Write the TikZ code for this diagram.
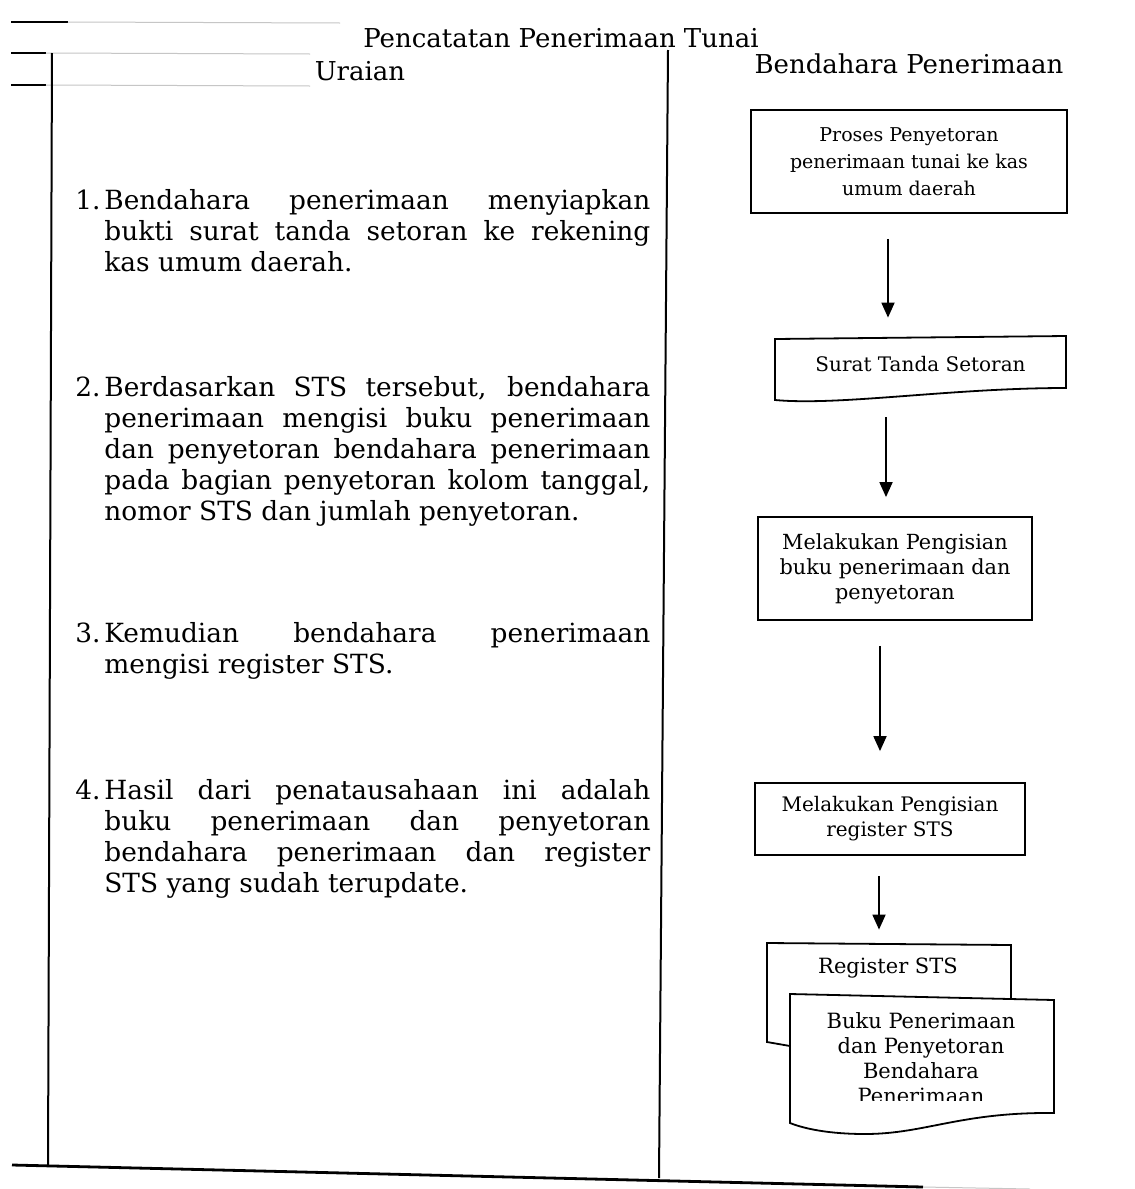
\documentclass[tikz,border=0pt]{standalone}
\usepackage{fontspec}
\setmainfont{DejaVu Serif}
\usetikzlibrary{arrows.meta}

\newcommand\hdrfont{\fontsize{13}{15}\selectfont}
\newcommand\parafont{\fontsize{13.2}{15.5}\selectfont}
\newcommand\boxfont{\fontsize{10}{12.5}\selectfont}
% numbered, justified paragraph with the text hanging behind the number
\newcommand\numpar[2]{\parbox[t]{287.5pt}{\tolerance=10000\hyphenpenalty=10000%
  \hangindent=14.5pt\hangafter=1\noindent\strut\makebox[14.5pt][l]{#1}#2}}

\tikzset{
  rule/.style={line width=1pt},
  faint/.style={gray!45, line width=0.5pt},
  hdr/.style={font=\hdrfont, inner sep=0, anchor=base},
  para/.style={font=\parafont, inner sep=0, anchor=north west},
  stepbox/.style={draw, line width=0.9pt, font=\boxfont, align=center, inner sep=0},
  slot/.style={inner sep=0, font=\boxfont, align=center},
  docline/.style={line width=0.9pt},
  arr/.style={line width=0.9pt, -{Triangle[width=6.5pt,length=7.5pt]}},
}

\begin{document}
\begin{tikzpicture}[x=0.5pt,y=-0.5pt]
  \fill[white] (0,0) rectangle (1135,1189);
  \useasboundingbox (0,0) rectangle (1135,1189);

  % remnants of the table rulings at the top left
  \draw[line width=0.8pt] (11,22) -- (68,22);
  \draw[faint] (68,22) -- (340,23);
  \draw[line width=0.8pt] (11,53) -- (46,53);
  \draw[faint] (46,53) -- (310,54);
  \draw[line width=0.8pt] (11,85) -- (46,85);
  \draw[faint] (46,85) -- (310,86);

  % column rulings
  \draw[rule] (52,53) -- (48,1165);
  \draw[rule] (668,50) -- (659,1178);
  \draw[line width=1.4pt] (12,1165) -- (923,1187);
  \draw[faint] (923,1187) -- (1030,1189);

  % headings
  \node[hdr] (title) at (561,47) {Pencatatan Penerimaan Tunai};
  \node[hdr] (kol1) at (360,80) {Uraian};
  \node[hdr] (kol2) at (909,73) {Bendahara Penerimaan};

  % description column
  \node[para] (u1) at (75,187) {\numpar{1.}{Bendahara penerimaan menyiapkan\linebreak bukti surat tanda setoran ke rekening\linebreak kas umum daerah.}};
  \node[para] (u2) at (75,374) {\numpar{2.}{Berdasarkan STS tersebut, bendahara\linebreak penerimaan mengisi buku penerimaan\linebreak dan penyetoran bendahara penerimaan\linebreak pada bagian penyetoran kolom tanggal,\linebreak nomor STS dan jumlah penyetoran.}};
  \node[para] (u3) at (75,620) {\numpar{3.}{Kemudian bendahara penerimaan\linebreak mengisi register STS.}};
  \node[para] (u4) at (75,777) {\numpar{4.}{Hasil dari penatausahaan ini adalah\linebreak buku penerimaan dan penyetoran\linebreak bendahara penerimaan dan register\linebreak STS yang sudah terupdate.}};

  % flow column
  \node[stepbox, minimum width=158pt, minimum height=51.5pt,
        font=\fontsize{9.5}{13.5}\selectfont] (b1) at (909,161.5)
        {Proses Penyetoran\\penerimaan tunai ke kas\\umum daerah};

  \node[slot, minimum width=145.5pt, minimum height=25.5pt] (b2) at (920.5,364.5) {Surat Tanda Setoran};
  \draw[docline] (775,339) -- (1066,336) -- (1066,388)
     .. controls (950,388) and (840,406) .. (775,400) -- cycle;

  \node[stepbox, minimum width=137pt, minimum height=51.5pt,
        font=\fontsize{10.4}{12.5}\selectfont] (b3) at (895,568.5)
        {Melakukan Pengisian\\buku penerimaan dan\\penyetoran};

  \node[stepbox, minimum width=135pt, minimum height=36pt] (b4) at (890,819)
        {Melakukan Pengisian\\register STS};

  % two stacked documents
  \node[slot, minimum width=122pt, minimum height=50pt] (b5) at (889,993) {};
  \draw[docline] (790,1046) -- (767,1042) -- (767,943) -- (1011,945) -- (1011,998);
  \node[inner sep=0, anchor=base, font=\fontsize{10.5}{12.5}\selectfont] (t5) at (888,973) {Register STS};

  \node[slot, minimum width=132pt, minimum height=58pt] (b6) at (922,1055) {};
  \draw[docline, fill=white] (790,994) -- (1054,1000) -- (1054,1113)
     .. controls (960,1112) and (925,1134) .. (865,1134)
     .. controls (830,1134) and (805,1129) .. (790,1123) -- cycle;
  \begin{scope}
    \clip (792,996) rectangle (1052,1100);
    \node[inner sep=0, anchor=north, align=center, font=\fontsize{10.5}{12.5}\selectfont] (t6) at (921,1010.5)
      {\strut Buku Penerimaan\\dan Penyetoran\\Bendahara\\Penerimaan};
  \end{scope}

  % arrows
  \coordinate (ax1) at (888,0);
  \coordinate (ax2) at (886,0);
  \coordinate (ax3) at (880,0);
  \coordinate (ax4) at (879,0);
  \draw[arr, shorten <=12.5pt, shorten >=10.5pt] (b1.south -| ax1) -- (b2.north -| ax1);
  \draw[arr, shorten <=13.5pt, shorten >=9.5pt] (b2.south -| ax2) -- (b3.north -| ax2);
  \draw[arr, shorten <=12.5pt, shorten >=15.5pt] (b3.south -| ax3) -- (b4.north -| ax3);
  \draw[arr, shorten <=10pt, shorten >=6.5pt] (b4.south -| ax4) -- (b5.north -| ax4);
\end{tikzpicture}
\end{document}
